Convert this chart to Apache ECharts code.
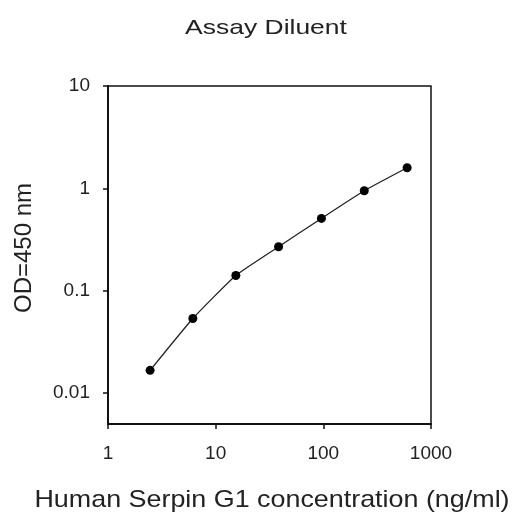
<!DOCTYPE html>
<html>
<head>
<meta charset="utf-8">
<script src="https://cdn.jsdelivr.net/npm/echarts@6/dist/echarts.min.js"></script>
<style>
html,body{margin:0;padding:0;background:#fff;}
#chart{width:514px;height:529px;}
</style>
</head>
<body>
<div id="chart"></div>
<script>
var titleText = 'Assay Diluent';
var xName = 'Human Serpin G1 concentration (ng/ml)';
var yName = 'OD=450 nm';
var concentration = [2.46, 6.14, 15.4, 38.4, 96, 240, 600];
var od450 = [0.0167, 0.0536, 0.141, 0.269, 0.509, 0.948, 1.59];

var points = concentration.map(function (c, i) { return [c, od450[i]]; });

var font = '"Liberation Sans", Arial, sans-serif';
var chart = echarts.init(document.getElementById('chart'), null, {renderer: 'canvas'});
chart.setOption({
  animation: false,
  backgroundColor: '#fff',
  grid: {left: 108, right: 83, top: 86, bottom: 105, show: true, borderColor: '#111', borderWidth: 1.5, backgroundColor: 'transparent'},
  xAxis: {
    type: 'log', logBase: 10, min: 1, max: 1000,
    axisLine: {show: true, lineStyle: {color: '#111', width: 2}},
    axisTick: {show: true, inside: false, length: 5, lineStyle: {color: '#111', width: 1.5}},
    minorTick: {show: false},
    splitLine: {show: false},
    axisLabel: {color: '#222', fontFamily: font, fontSize: 19, margin: 20,
      formatter: function (v) { return String(Math.round(v)); }}
  },
  yAxis: {
    type: 'log', logBase: 10, min: 0.005, max: 10,
    axisLine: {show: true, lineStyle: {color: '#111', width: 2}},
    axisTick: {show: true, inside: false, length: 5, lineStyle: {color: '#111', width: 1.5}},
    splitLine: {show: false},
    axisLabel: {color: '#222', fontFamily: font, fontSize: 19, margin: 18, showMinLabel: false,
      formatter: function (v) {
        if (v < 0.009) return '';
        var s = parseFloat(v.toPrecision(3));
        return String(s);
      }}
  },
  series: [{
    type: 'line',
    data: points,
    symbol: 'circle',
    symbolSize: 9,
    smooth: 0.15,
    lineStyle: {color: '#222', width: 1.3},
    itemStyle: {color: '#000'}
  }],
  graphic: [
    {type: 'text', x: 266, y: 28, scaleX: 1.26, style: {text: titleText, fontFamily: font, fontSize: 21, fill: '#222', textAlign: 'center', textVerticalAlign: 'middle'}},
    {type: 'text', x: 272, y: 500, scaleX: 1.12, style: {text: xName, fontFamily: font, fontSize: 24, fill: '#222', textAlign: 'center', textVerticalAlign: 'middle'}},
    {type: 'text', x: 24, y: 248, rotation: Math.PI / 2, style: {text: yName, fontFamily: font, fontSize: 24, fill: '#222', textAlign: 'center', textVerticalAlign: 'middle'}}
  ]
});
</script>
</body>
</html>
